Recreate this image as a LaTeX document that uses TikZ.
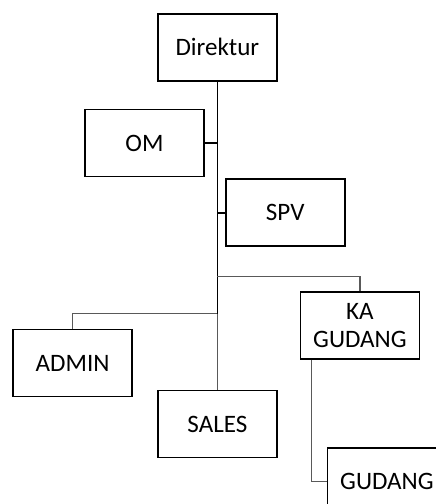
\documentclass[tikz,border=0pt]{standalone}
\usepackage{fontspec}
\setmainfont{Carlito}
\usepackage{tikz}
\usetikzlibrary{calc,positioning}

\tikzset{
	jabatan/.style={draw=black,line width=1.3pt,minimum width=89.25pt,minimum height=50.25pt,inner sep=0pt,align=center,font=\fontsize{18.8pt}{21pt}\selectfont},
	garis/.style={black,line width=1.2pt},
	cabang/.style={black!65,line width=1pt}
}

\begin{document}
\begin{tikzpicture}
		\node(dir) [jabatan] {Direktur};
		\node(om) [jabatan,below=20.25pt of dir.south,anchor=north east,xshift=-9.4pt] {OM};
		\node(spv) [jabatan,below right=0.75pt and 15pt of om.south east,anchor=north west] {SPV};
		\node(sales) [jabatan,below=231pt of dir] {SALES};
		\node(ka) [jabatan,below=33pt of spv.south east,anchor=north west,xshift=-34.5pt] {KA\\GUDANG};
		\node(admin) [jabatan,left=18pt of sales.north west,anchor=north east,yshift=45.75pt] {ADMIN};
		\node(gudang) [jabatan,below right=65.25pt and 20.25pt of ka.south west,anchor=north west] {GUDANG};
		% titik cabang
		\coordinate (kaj) at ([yshift=11.25pt]ka.north -| dir.south);
		\coordinate (adj) at ([yshift=11.25pt]admin.north -| dir.south);
		\path [garis]
			(dir.south) edge (adj)
			(om.east) edge (om.east -| dir.south)
			(spv.west) edge (spv.west -| dir.south);
		\draw [cabang] (adj) -- (sales.north);
		\draw [cabang] (kaj) -| (ka.north);
		\draw [cabang] (adj) -| (admin.north);
		\draw [cabang] ([xshift=9pt]ka.south west) |- (gudang.west);
		\pgfresetboundingbox
		\useasboundingbox ([shift={(-117.75pt,9.75pt)}]dir.north west) rectangle ++(327pt,-378pt);
	\end{tikzpicture}
\end{document}
